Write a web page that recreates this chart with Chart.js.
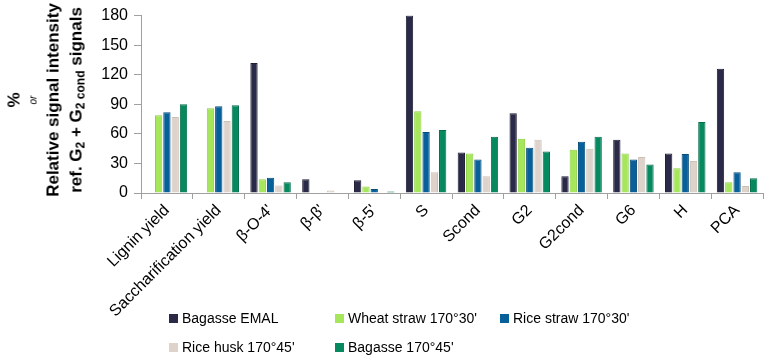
<!DOCTYPE html>
<html>
<head>
<meta charset="utf-8">
<script src="https://cdn.jsdelivr.net/npm/chart.js@4"></script>
<style>
  html, body { margin: 0; padding: 0; background: #fff; }
  body { width: 765px; height: 360px; position: relative; overflow: hidden; font-family: "Liberation Sans", Arial, sans-serif; }
  #wrap { position: absolute; left: 0; top: 0; width: 765px; height: 360px; }
  .y-title {
    position: absolute; left: 45px; top: 100px; width: 240px;
    transform: translate(-50%, -50%) rotate(-90deg);
    text-align: center; font-weight: bold; font-size: 17px; color: #000; line-height: 23px;
  }
  .y-title .or { font-size: 10px; font-style: italic; font-weight: normal; line-height: 16px; }
  .y-title sub { font-size: 12px; vertical-align: -3px; line-height: 0; }
  .legend { position: absolute; left: 169px; top: 310px; display: grid; grid-template-columns: 166px 165px 170px; row-gap: 13px; font-size: 14px; }
  .legend span.item { display: flex; align-items: center; white-space: nowrap; }
  .legend i { display: inline-block; width: 9px; height: 9px; margin-right: 4px; }
</style>
</head>
<body>
<div id="wrap"><canvas id="chart" width="765" height="360"></canvas></div>
<div class="y-title">
  <div>%</div>
  <div class="or">or</div>
  <div>Relative signal intensity</div>
  <div>ref. G<sub>2</sub> + G<sub>2 cond</sub> signals</div>
</div>
<div class="legend" id="legend"></div>
<script>
// chart data
const categories = ['Lignin yield', 'Saccharification yield', "β-O-4'", "β-β'", "β-5'", 'S', 'Scond', 'G2', 'G2cond', 'G6', 'H', 'PCA'];
const seriesNames = ['Bagasse EMAL', "Wheat straw 170°30'", "Rice straw 170°30'", "Rice husk 170°45'", "Bagasse 170°45'"];
const bagasseEmal = [0, 0, 132, 14, 13, 180, 41, 81, 17, 54, 40, 126];
const wheatStraw  = [79, 86, 14, 0, 6.5, 83, 40, 55, 44, 40, 25, 11];
const riceStraw   = [82, 88, 15.5, 0, 4, 62, 34, 46, 52, 34, 39.5, 21];
const riceHusk    = [77, 73, 7.5, 2.6, 0, 21, 17, 54, 45, 36.5, 32.5, 7];
const bagasse4545 = [90, 89, 11, 0, 1.6, 64, 57, 42, 57, 29, 72, 15];
const yTicks = [0, 30, 60, 90, 120, 150, 180];

const colors = ['#2a2a48', '#a6e65a', '#08609a', '#ddd3cb', '#07895f'];
const borders = ['#1e1e36', '#8fd046', '#054c7c', '#cbc0b6', '#056e4b'];
const allSeries = [bagasseEmal, wheatStraw, riceStraw, riceHusk, bagasse4545];

document.addEventListener('DOMContentLoaded', () => {
    const datasets = allSeries.map((vals, i) => ({
        label: seriesNames[i],
        data: vals,
        backgroundColor: colors[i],
        borderColor: borders[i],
        borderWidth: 1,
        categoryPercentage: 0.8,
        barPercentage: 0.88
    }));

    // legend in a grid, like the original
    const legendEl = document.getElementById('legend');
    seriesNames.forEach((name, i) => {
        const item = document.createElement('span');
        item.className = 'item';
        item.innerHTML = `<i style="background:${colors[i]}"></i>${name}`;
        legendEl.appendChild(item);
    });

    const ctx = document.getElementById('chart').getContext('2d');
    new Chart(ctx, {
        type: 'bar',
        data: { labels: categories, datasets: datasets },
        options: {
            responsive: false,
            animation: false,
            layout: { padding: { left: 100, right: 2, top: 1, bottom: 0 } },
            plugins: { legend: { display: false }, tooltip: { enabled: false } },
            scales: {
                x: {
                    offset: true,
                    afterFit: (axis) => { axis.height = 167; },
                    grid: { display: true, drawOnChartArea: false, offset: true, tickLength: 6, color: '#a0a0a0' },
                    border: { color: '#a0a0a0' },
                    ticks: {
                        minRotation: 45, maxRotation: 45, autoSkip: false,
                        color: '#000', padding: 2,
                        font: { family: '"Liberation Sans", Arial, sans-serif', size: 16 }
                    }
                },
                y: {
                    min: 0, max: 180,
                    afterFit: (axis) => { axis.width = 41; },
                    afterBuildTicks: (axis) => { axis.ticks = yTicks.map(v => ({ value: v })); },
                    grid: { drawOnChartArea: false, tickLength: 7, color: '#a0a0a0' },
                    border: { color: '#a0a0a0' },
                    ticks: {
                        color: '#000', padding: 6,
                        font: { family: '"Liberation Sans", Arial, sans-serif', size: 16 }
                    }
                }
            }
        }
    });
});
</script>
</body>
</html>
